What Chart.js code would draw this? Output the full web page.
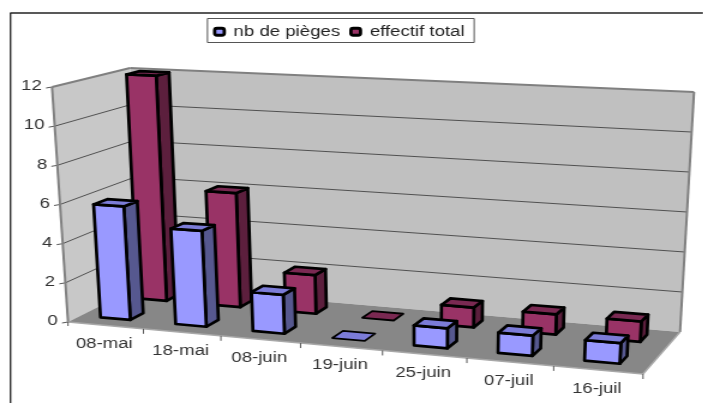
<!DOCTYPE html>
<html>
<head>
<meta charset="utf-8">
<style>
    html, body { margin: 0; padding: 0; background: #fff; overflow: hidden; }
    /* la figure d'origine est étirée horizontalement */
    canvas { display: block; transform: scale(1.2, 1); transform-origin: 0 0; filter: blur(0.4px); }
</style>
<script src="https://cdn.jsdelivr.net/npm/chart.js@4"></script>
</head>
<body>
<canvas id="chart3d" width="586" height="403"></canvas>
<script>
    const categories = ["08-mai", "18-mai", "08-juin", "19-juin", "25-juin", "07-juil", "16-juil"];
    const nbPieges = [6, 5, 2, 0, 1, 1, 1];
    const effectifTotal = [12, 6, 2, 0, 1, 1, 1];
    const yTicks = [0, 2, 4, 6, 8, 10, 12];

    const stretch = 1.2;
    const px = (x, y) => [x / stretch, y];

    // coins de la boite 3D (pixels de l'image finale)
    const floorQuad = [px(68, 322), px(643, 374), px(680, 332), px(140, 286)];
    const topQuad = [px(52, 87), px(658, 115), px(694, 92), px(130, 68)];

    // profondeur de chaque serie dans la boite
    const depths = [[0.17, 0.35], [0.69, 0.87]];
    const heightScale = [0.97, 1];
    const barShift = -0.005;
    const faces = [
        { front: "#9999FF", side: "#56588F", top: "#7C7CD8" },
        { front: "#993366", side: "#5C1F3D", top: "#7A2952" }
    ];

    function quadMap(q) {
        const [[x0, y0], [x1, y1], [x2, y2], [x3, y3]] = q;
        const dx1 = x1 - x2, dx2 = x3 - x2, sx = x0 - x1 + x2 - x3;
        const dy1 = y1 - y2, dy2 = y3 - y2, sy = y0 - y1 + y2 - y3;
        const det = dx1 * dy2 - dx2 * dy1;
        const g = (sx * dy2 - dx2 * sy) / det;
        const h = (dx1 * sy - sx * dy1) / det;
        const a = x1 - x0 + g * x1, b = x3 - x0 + h * x3;
        const d = y1 - y0 + g * y1, e = y3 - y0 + h * y3;
        return (u, w) => {
            const k = g * u + h * w + 1;
            return [(a * u + b * w + x0) / k, (d * u + e * w + y0) / k];
        };
    }

    const floorMap = quadMap(floorQuad);
    const topMap = quadMap(topQuad);

    function project(u, v, d) {
        // un peu plus de fuite vers la gauche, comme dans la figure
        const w = u - 0.03 * u * (1 - u);
        const b = floorMap(w, d), t = topMap(w, d);
        return [b[0] + (t[0] - b[0]) * v, b[1] + (t[1] - b[1]) * v];
    }

    function poly(ctx, pts, fill, stroke, width) {
        ctx.beginPath();
        pts.forEach((p, i) => i ? ctx.lineTo(p[0], p[1]) : ctx.moveTo(p[0], p[1]));
        ctx.closePath();
        if (fill) { ctx.fillStyle = fill; ctx.fill(); }
        if (stroke) {
            ctx.strokeStyle = stroke;
            ctx.lineWidth = width;
            ctx.lineJoin = "round";
            ctx.stroke();
        }
    }

    function line(ctx, a, b, color, width) {
        ctx.beginPath();
        ctx.moveTo(a[0], a[1]);
        ctx.lineTo(b[0], b[1]);
        ctx.strokeStyle = color;
        ctx.lineWidth = width;
        ctx.stroke();
    }

    const scene3d = {
        id: "scene3d",
        beforeDatasetDraw() {
            return false;
        },
        afterDatasetsDraw(chart) {
            const ctx = chart.ctx;
            const area = chart.chartArea;
            const xScale = chart.scales.x;
            const yScale = chart.scales.y;
            const vOf = value => (area.bottom - yScale.getPixelForValue(value)) / area.height;
            const uOf = pixel => (pixel - area.left) / area.width;
            const step = 1 / categories.length;

            ctx.save();

            // cadre
            line(ctx, px(10.5, 13), px(10.5, 403), "#222", 1.3);
            line(ctx, px(10, 13), px(703, 13), "#222", 1.5);

            // murs et sol
            poly(ctx, [project(0, 0, 0), project(0, 0, 1), project(0, 1, 1), project(0, 1, 0)], "#C8C8C8");
            poly(ctx, [project(0, 0, 1), project(1, 0, 1), project(1, 1, 1), project(0, 1, 1)], "#C0C0C0");
            poly(ctx, [project(0, 0, 0), project(1, 0, 0), project(1, 0, 1), project(0, 0, 1)], "#878787");

            // lignes de grille
            yScale.ticks.forEach(t => {
                const v = vOf(t.value);
                if (t.value > 0 && t.value < 12) {
                    line(ctx, project(0, v, 0), project(0, v, 1), "#444", 0.9);
                    line(ctx, project(0, v, 1), project(1, v, 1), "#444", 0.9);
                }
                line(ctx, project(0, v, 0), [project(0, v, 0)[0] - 5, project(0, v, 0)[1] + 1], "#555", 1);
            });

            // aretes grises
            const edge = "#808080";
            line(ctx, project(0, 1, 0), project(0, 1, 1), edge, 2);
            line(ctx, project(0, 1, 1), project(1, 1, 1), edge, 2);
            line(ctx, project(1, 1, 1), project(1, 0, 1), edge, 2);
            line(ctx, project(0, 1, 0), project(0, 0, 0), edge, 2);
            line(ctx, project(0, 0, 0), project(1, 0, 0), "#A8A8A8", 1.5);
            line(ctx, project(1, 0, 0), project(1, 0, 1), "#A8A8A8", 1.5);

            // graduations et libelles
            ctx.font = "15.5px 'Liberation Sans', Arial, sans-serif";
            ctx.textBaseline = "middle";
            ctx.textAlign = "right";
            yScale.ticks.forEach(t => {
                const p = project(0, vOf(t.value), 0);
                ctx.fillStyle = "#333";
                ctx.fillText(t.label, p[0] - 8.5, p[1] - 1);
            });
            ctx.textAlign = "center";
            categories.forEach((label, i) => {
                const u = uOf(xScale.getPixelForTick(i));
                const a = project(u + step / 2, 0, 0);
                line(ctx, a, [a[0], a[1] + 5], "#555", 1);
                const c = project(u, 0, 0);
                ctx.fillStyle = "#333";
                ctx.fillText(label, c[0] - 1, c[1] + 18.5);
            });
            const start = project(0, 0, 0);
            line(ctx, start, [start[0], start[1] + 4], "#555", 1);

            // barres, de l'arriere vers l'avant et de droite a gauche
            [1, 0].forEach(ds => {
                const meta = chart.getDatasetMeta(ds);
                const [d0, d1] = depths[ds];
                const col = faces[ds];
                for (let i = categories.length - 1; i >= 0; i--) {
                    const bar = meta.data[i];
                    const u0 = uOf(bar.x - bar.width / 2) + barShift;
                    const u1 = uOf(bar.x + bar.width / 2) + barShift;
                    const v = heightScale[ds] * (area.bottom - bar.y) / area.height;
                    const lw = 2.7;
                    if (v > 0) {
                        poly(ctx, [project(u1, 0, d0), project(u1, 0, d1), project(u1, v, d1), project(u1, v, d0)], col.side, "#000", lw);
                        poly(ctx, [project(u0, 0, d0), project(u1, 0, d0), project(u1, v, d0), project(u0, v, d0)], col.front, "#000", lw);
                    }
                    poly(ctx, [project(u0, v, d0), project(u1, v, d0), project(u1, v, d1), project(u0, v, d1)], col.top, "#000", v > 0 ? lw : 1.8);
                }
            });

            // cadre de la legende
            const boxes = chart.legend.legendHitBoxes;
            const left = boxes[0].left - 6;
            const right = boxes[boxes.length - 1].left + boxes[boxes.length - 1].width + 8;
            ctx.strokeStyle = "#555";
            ctx.lineWidth = 1;
            ctx.strokeRect(left, 18.5, right - left, 24);

            ctx.restore();
        }
    };

    new Chart(document.getElementById("chart3d"), {
        type: "bar",
        plugins: [scene3d],
        data: {
            labels: categories,
            datasets: [
                { label: "nb de pièges", data: nbPieges, backgroundColor: faces[0].front, borderColor: "#000", borderWidth: 2.8, borderRadius: 2, grouped: false },
                { label: "effectif total", data: effectifTotal, backgroundColor: faces[1].front, borderColor: "#000", borderWidth: 2.8, borderRadius: 2, grouped: false }
            ]
        },
        options: {
            responsive: false,
            animation: false,
            barPercentage: 0.4,
            categoryPercentage: 1,
            layout: {
                padding: { top: 15, right: 20 }
            },
            scales: {
                x: { display: false },
                y: {
                    display: false,
                    min: 0,
                    max: 12,
                    afterBuildTicks(scale) {
                        scale.ticks = yTicks.map(value => ({ value, label: String(value) }));
                    }
                }
            },
            plugins: {
                tooltip: { enabled: false },
                legend: {
                    position: "top",
                    labels: {
                        boxWidth: 8,
                        boxHeight: 7,
                        padding: 9,
                        useBorderRadius: true,
                        color: "#222",
                        font: { family: "'Liberation Sans', Arial, sans-serif", size: 15.5 }
                    }
                }
            }
        }
    });
</script>
</body>
</html>
